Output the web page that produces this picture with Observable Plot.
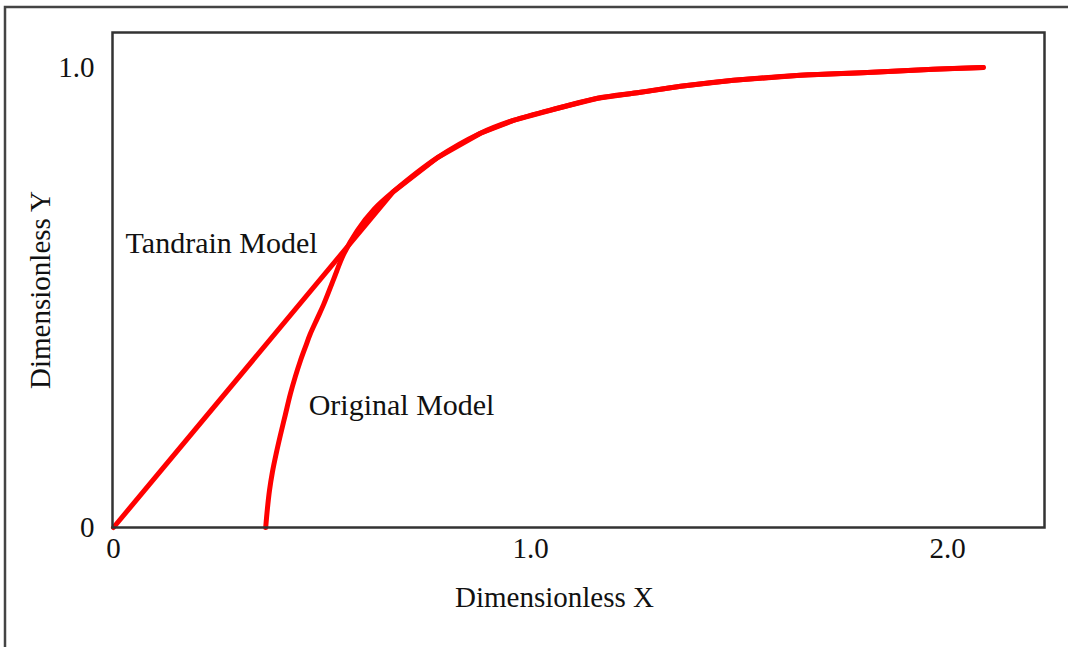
<!DOCTYPE html>
<html>
<head>
<meta charset="utf-8">
<script src="https://cdn.jsdelivr.net/npm/d3@7"></script>
<script src="https://cdn.jsdelivr.net/npm/@observablehq/plot@0.6"></script>
<style>
  html, body { margin: 0; padding: 0; background: #fff; }
  #chart { width: 1068px; height: 647px; overflow: hidden; }
</style>
</head>
<body>
<div id="chart"></div>
<script>
// Dimensionless response curves of the two drain models
const tandrainX = [0, 0.671, 0.777, 0.880, 0.959, 1.072, 1.161, 1.264, 1.360, 1.487, 1.647, 1.808, 1.966, 2.086];
const tandrainY = [0, 0.730, 0.804, 0.857, 0.885, 0.913, 0.933, 0.946, 0.959, 0.972, 0.983, 0.989, 0.996, 1.000];

const originalX = [0.365, 0.369, 0.374, 0.381, 0.390, 0.400, 0.412, 0.424, 0.436, 0.448, 0.460, 0.472, 0.488, 0.504, 0.528, 0.552, 0.585, 0.625, 0.671, 0.777, 0.880, 0.959, 1.072, 1.161, 1.264, 1.360, 1.487, 1.647, 1.808, 1.966, 2.086];
const originalY = [0, 0.040, 0.080, 0.120, 0.160, 0.200, 0.245, 0.290, 0.328, 0.362, 0.392, 0.421, 0.453, 0.485, 0.540, 0.594, 0.646, 0.692, 0.730, 0.804, 0.857, 0.885, 0.913, 0.933, 0.946, 0.959, 0.972, 0.983, 0.989, 0.996, 1.000];

const xTicks = [0, 1, 2];
const xTickLabels = ["0", "1.0", "2.0"];
const yTicks = [0, 1];
const yTickLabels = ["0", "1.0"];
const xTitle = "Dimensionless X";
const yTitle = "Dimensionless Y";

// Curve annotations: text, anchor point in data units
const notes = [
  {text: "Tandrain Model", x: 0.029, y: 0.617},
  {text: "Original Model", x: 0.468, y: 0.265}
];

const tandrain = tandrainX.map((x, i) => ({x, y: tandrainY[i]}));
const original = originalX.map((x, i) => ({x, y: originalY[i]}));

const red = "#ff0000";
const serif = "Liberation Serif";

const chart = Plot.plot({
  width: 1068,
  height: 647,
  marginLeft: 112,
  marginRight: 24,
  marginTop: 32,
  marginBottom: 120,
  style: {fontFamily: serif, fontSize: "29px", color: "#111", background: "#fff"},
  x: {domain: [-0.0024, 2.2326]},
  y: {domain: [0, 1.076]},
  marks: [
    Plot.axisX({
      ticks: xTicks,
      tickFormat: d => xTickLabels[xTicks.indexOf(d)],
      tickSize: 0,
      tickPadding: 10,
      label: null,
      fontSize: 29
    }),
    Plot.axisY({
      ticks: yTicks,
      tickFormat: d => yTickLabels[yTicks.indexOf(d)],
      tickSize: 0,
      tickPadding: 18,
      label: null,
      fontSize: 29
    }),
    // Axis titles
    Plot.text([xTitle], {text: d => d, frameAnchor: "bottom", dx: -24, dy: 70, textAnchor: "middle", lineAnchor: "middle", fontSize: 29, fontFamily: serif, fill: "#111"}),
    Plot.text([yTitle], {text: d => d, frameAnchor: "left", rotate: -90, dx: -72, dy: 10, textAnchor: "middle", lineAnchor: "middle", fontSize: 29, fontFamily: serif, fill: "#111"}),
    Plot.line(original, {x: "x", y: "y", stroke: red, strokeWidth: 5, curve: "catmull-rom"}),
    Plot.line(tandrain, {x: "x", y: "y", stroke: red, strokeWidth: 5}),
    Plot.text(notes, {x: "x", y: "y", text: "text", textAnchor: "start", lineAnchor: "middle", fill: "#111", fontSize: 30, fontFamily: serif}),
    Plot.frame({stroke: "#333", strokeWidth: 2.5})
  ]
});

// Outer border of the figure (top and left edges)
const svg = d3.select(chart);
svg.append("path")
  .attr("d", "M5,647V7H1068")
  .attr("fill", "none")
  .attr("stroke", "#444")
  .attr("stroke-width", 2.5);

document.getElementById("chart").appendChild(chart);
</script>
</body>
</html>
